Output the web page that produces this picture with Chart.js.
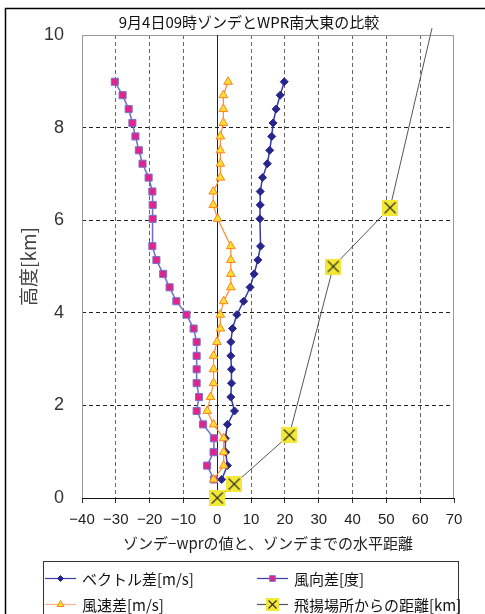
<!DOCTYPE html>
<html>
<head>
<meta charset="utf-8">
<script src="https://cdn.jsdelivr.net/npm/chart.js@4/dist/chart.umd.min.js"></script>
<style>
  html, body { margin: 0; padding: 0; background: #fff; }
</style>
</head>
<body>
<canvas id="profileChart" width="485" height="614"></canvas>
<script>
// heights of the WPR levels [km] (5.7 km missing in all three series)
const heights = [0.40, 0.70, 0.99, 1.29, 1.59, 1.88, 2.18, 2.48, 2.78, 3.07, 3.37, 3.66, 3.96, 4.25, 4.55,
                 4.84, 5.14, 5.44, 6.03, 6.33, 6.62, 6.92, 7.22, 7.51, 7.81, 8.10, 8.40, 8.70, 8.99];
const vectorDiff = [1.3, 3.0, 2.5, 2.4, 3.0, 5.1, 4.0, 4.2, 4.2, 4.0, 4.0, 4.5, 5.8, 7.8, 9.7,
                    10.9, 12.0, 12.8, 12.6, 12.7, 12.7, 13.4, 14.8, 15.5, 16.1, 16.5, 17.4, 18.6, 19.8];
const directionDiff = [-1.0, -3.0, -1.1, -1.0, -4.2, -6.1, -5.4, -6.1, -6.1, -6.1, -6.1, -7.0, -9.1, -12.1, -14.1,
                       -16.0, -18.0, -19.2, -19.1, -19.1, -19.2, -20.3, -22.1, -23.2, -24.2, -25.1, -26.2, -28.0, -30.3];
const speedDiff = [-1.1, 1.9, 1.9, 1.9, -1.1, -3.0, -2.0, -1.1, -1.1, -1.1, -0.1, 0.9, 0.9, 1.9, 4.0,
                   4.0, 4.0, 4.0, 0.1, -1.2, -1.2, 0.9, 0.9, 0.9, 0.9, 1.8, 1.8, 1.8, 3.2];
// distance of the sonde from the launch site
const distanceKm = [0, 5.0, 21.3, 34.3, 51.1, 63.5];
const distanceHeights = [0, 0.30, 1.36, 5.0, 6.27, 10.15];

const seriesNames = ['ベクトル差[m/s]', '風向差[度]', '風速差[m/s]', '飛揚場所からの距離[km]'];
const xTicks = [-40, -30, -20, -10, 0, 10, 20, 30, 40, 50, 60, 70];
const yTicks = [0, 2, 4, 6, 8, 10];

const titleText = '9月4日09時ゾンデとWPR南大東の比較';
const xTitle = 'ゾンデ−wprの値と、ゾンデまでの水平距離';
const yTitle = '高度[km]';

const jpFont = '"Noto Sans CJK JP", sans-serif';
const numFont = '"Liberation Sans", Arial, sans-serif';

function pairs(xs, ys) {
    return xs.map((x, i) => ({x: x, y: ys[i]}));
}

function crossBox(size) {
    const c = document.createElement('canvas');
    c.width = size;
    c.height = size;
    const g = c.getContext('2d');
    g.fillStyle = '#f2e838';
    g.fillRect(0, 0, size, size);
    g.strokeStyle = '#2e2e1a';
    g.lineWidth = 1.1;
    g.beginPath();
    g.moveTo(2.5, 2.5); g.lineTo(size - 2.5, size - 2.5);
    g.moveTo(size - 2.5, 2.5); g.lineTo(2.5, size - 2.5);
    g.stroke();
    return c;
}
const bigCross = crossBox(16);
const smallCross = crossBox(13);

const datasets = [{
    label: seriesNames[0],
    data: pairs(vectorDiff, heights),
    borderColor: '#3a3aa6',
    borderWidth: 1.5,
    pointStyle: 'rectRot',
    pointRadius: 4,
    pointBackgroundColor: '#26268c',
    pointBorderColor: '#26268c',
    pointBorderWidth: 1,
    order: 3
}, {
    label: seriesNames[1],
    data: pairs(directionDiff, heights),
    borderColor: '#6e6ec8',
    borderWidth: 1.5,
    pointStyle: 'rect',
    pointRadius: 5,
    pointBackgroundColor: '#e0248c',
    pointBorderColor: '#7474cc',
    pointBorderWidth: 1,
    order: 2
}, {
    label: seriesNames[2],
    data: pairs(speedDiff, heights),
    borderColor: '#ff8a30',
    borderWidth: 1.2,
    pointStyle: 'triangle',
    pointRadius: 5,
    pointBackgroundColor: '#ffe030',
    pointBorderColor: '#ff8020',
    pointBorderWidth: 1,
    order: 1
}, {
    label: seriesNames[3],
    data: pairs(distanceKm, distanceHeights),
    borderColor: '#555',
    borderWidth: 1,
    pointStyle: bigCross,
    pointRadius: ctx => (ctx.raw && ctx.raw.y > yTicks[yTicks.length - 1]) ? 0 : 8,
    order: 0
}];

const legendLines = ['#3a3aa6', '#3a3aa6', '#ffb080', '#555'];

// frame, title, zero line and legend drawn around the library plot
const decorations = {
    id: 'decorations',
    beforeDatasetsDraw(chart) {
        const {ctx, chartArea: a, scales} = chart;
        const x0 = scales.x.getPixelForValue(0);
        ctx.save();
        ctx.strokeStyle = '#999';
        ctx.lineWidth = 1;
        ctx.beginPath();
        ctx.moveTo(a.left + 0.5, a.bottom);
        ctx.lineTo(a.left + 0.5, a.top + 0.5);
        ctx.lineTo(a.right - 0.5, a.top + 0.5);
        ctx.lineTo(a.right - 0.5, a.bottom);
        ctx.stroke();
        ctx.strokeStyle = '#222';
        ctx.beginPath();
        ctx.moveTo(Math.round(x0) + 0.5, a.top);
        ctx.lineTo(Math.round(x0) + 0.5, a.bottom);
        ctx.stroke();
        ctx.restore();
    },
    afterDraw(chart) {
        const ctx = chart.ctx;
        ctx.save();
        // outer frame
        ctx.strokeStyle = '#000';
        ctx.lineWidth = 1.5;
        ctx.strokeRect(5.5, 8.5, 520, 700);

        ctx.fillStyle = '#111';
        ctx.font = '15px ' + jpFont;
        ctx.textAlign = 'center';
        ctx.textBaseline = 'middle';
        ctx.fillText(titleText, 249, 22);

        // legend box
        ctx.strokeStyle = '#333';
        ctx.lineWidth = 1;
        ctx.strokeRect(43.5, 561.5, 415, 100);

        ctx.textAlign = 'left';
        ctx.font = '15px ' + jpFont;
        chart.data.datasets.forEach((ds, i) => {
            const lx = i % 2 === 0 ? 45 : 257;
            const ly = i < 2 ? 578 : 604;
            ctx.strokeStyle = legendLines[i];
            ctx.lineWidth = 1.2;
            ctx.beginPath();
            ctx.moveTo(lx, ly + 0.5);
            ctx.lineTo(lx + 31, ly + 0.5);
            ctx.stroke();
            const mx = lx + 15.5;
            if (typeof ds.pointStyle === 'string') {
                ctx.fillStyle = ds.pointBackgroundColor;
                ctx.strokeStyle = ds.pointBorderColor;
                ctx.lineWidth = 1;
                Chart.helpers.drawPoint(ctx, {
                    pointStyle: ds.pointStyle,
                    radius: ds.pointRadius - 1,
                    borderWidth: 1,
                    rotation: 0
                }, mx, ly + 0.5);
            } else {
                ctx.drawImage(smallCross, Math.round(mx - 6.5), Math.round(ly - 6));
            }
            ctx.fillStyle = '#111';
            ctx.fillText(ds.label, lx + 37, ly + 1);
        });
        ctx.restore();
    }
};

new Chart(document.getElementById('profileChart'), {
    type: 'line',
    data: {datasets: datasets},
    plugins: [decorations],
    options: {
        responsive: false,
        animation: false,
        devicePixelRatio: 1,
        clip: false,
        layout: {padding: {left: 0, right: 31, top: 35, bottom: 59}},
        plugins: {
            legend: {display: false},
            tooltip: {enabled: false}
        },
        scales: {
            x: {
                type: 'linear',
                min: xTicks[0],
                max: xTicks[xTicks.length - 1],
                afterFit: s => { s.height = 57; },
                afterBuildTicks: s => { s.ticks = xTicks.map(v => ({value: v})); },
                ticks: {
                    padding: 8,
                    color: '#222',
                    font: {family: numFont, size: 15},
                    callback: v => String(v).replace('-', '−')
                },
                grid: {
                    color: c => (c.tick && (c.tick.value === xTicks[0] || c.tick.value === 0 ||
                        c.tick.value === xTicks[xTicks.length - 1])) ? 'rgba(0,0,0,0)' : '#666',
                    lineWidth: 1,
                    tickLength: 5,
                    tickColor: '#333'
                },
                border: {display: true, color: '#111', width: 1, dash: [4, 3]},
                title: {
                    display: true,
                    text: xTitle,
                    color: '#222',
                    font: {family: jpFont, size: 15},
                    padding: {top: 0, bottom: 3}
                }
            },
            y: {
                type: 'linear',
                min: yTicks[0],
                max: yTicks[yTicks.length - 1],
                afterFit: s => { s.width = 82; },
                afterBuildTicks: s => { s.ticks = yTicks.map(v => ({value: v})); },
                ticks: {
                    padding: 18,
                    color: '#333',
                    font: {family: numFont, size: 18}
                },
                grid: {
                    color: c => (c.tick && (c.tick.value === yTicks[0] ||
                        c.tick.value === yTicks[yTicks.length - 1])) ? 'rgba(0,0,0,0)' : '#222',
                    lineWidth: 1,
                    drawTicks: false
                },
                border: {display: false, dash: [4, 3]},
                title: {
                    display: true,
                    text: yTitle,
                    color: '#444',
                    font: {family: jpFont, size: 19},
                    padding: {top: 17, bottom: 0}
                }
            }
        }
    }
});
</script>
</body>
</html>
